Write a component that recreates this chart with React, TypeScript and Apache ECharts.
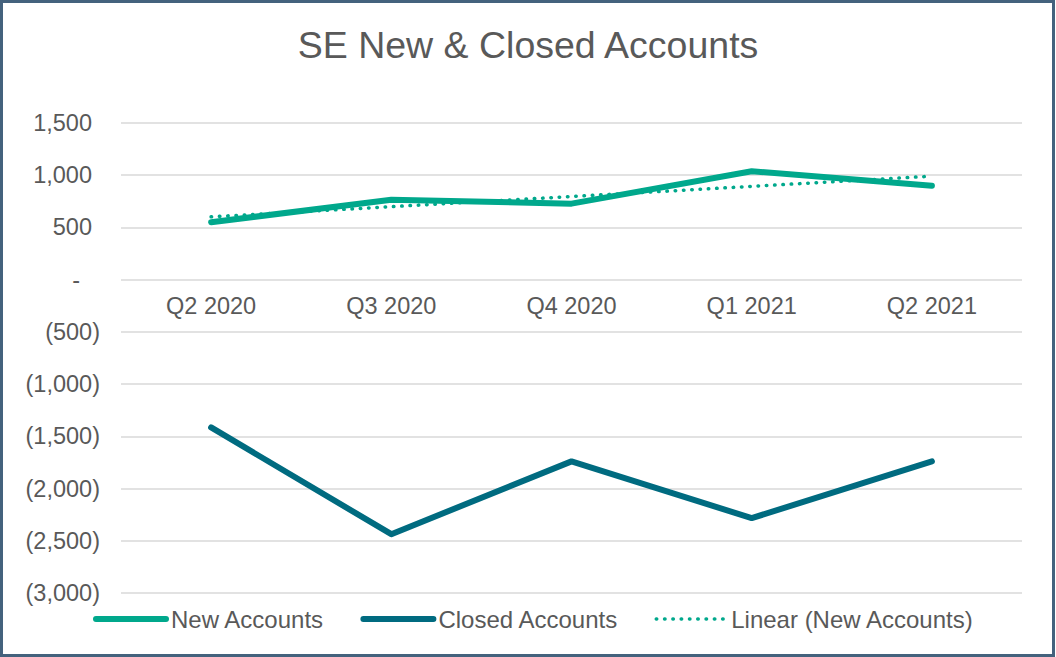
import React, { useEffect, useRef } from "react";
import * as echarts from "echarts";

const categories = ["Q2 2020", "Q3 2020", "Q4 2020", "Q1 2021", "Q2 2021"];
const newAccounts = [550, 765, 728, 1038, 900];
const closedAccounts = [-1415, -2437, -1740, -2283, -1740];
const yTicks = { min: -3000, max: 1500, interval: 500 };

// Linear trend (least squares) of New Accounts, as Excel computes it
function linearTrend(values: number[]): number[] {
  const n = values.length;
  const xs = values.map((_, i) => i + 1);
  const mx = xs.reduce((a, b) => a + b, 0) / n;
  const my = values.reduce((a, b) => a + b, 0) / n;
  let num = 0;
  let den = 0;
  for (let i = 0; i < n; i++) {
    num += (xs[i] - mx) * (values[i] - my);
    den += (xs[i] - mx) * (xs[i] - mx);
  }
  const slope = num / den;
  return xs.map((x) => +(my + slope * (x - mx)).toFixed(2));
}

const FONT = "'Liberation Sans', Arial, sans-serif";
const TEXT = "#595959";
const GREEN = "#00A88C";
const TEAL = "#006B80";
const FS = 23.5;

function fmt(v: number): string {
  if (v === 0) return "{z|-}";
  const s = Math.abs(v).toLocaleString("en-US");
  return v < 0 ? "{n|(" + s + ")}" : "{p|" + s + "}";
}

export default function App() {
  const ref = useRef<HTMLDivElement>(null);
  useEffect(() => {
    if (!ref.current) return;
    const chart = echarts.init(ref.current, undefined, { renderer: "svg" });
    const base = { fontSize: FS, color: TEXT, fontFamily: FONT };
    chart.setOption({
      animation: false,
      backgroundColor: "#ffffff",
      title: {
        text: "SE New & Closed Accounts",
        left: "center",
        top: 21,
        textStyle: { fontSize: 37.5, fontWeight: "normal", color: TEXT, fontFamily: FONT },
      },
      graphic: [
        {
          type: "rect",
          shape: { x: 1.5, y: 1.5, width: 1052, height: 654 },
          style: { fill: "none", stroke: "#44627D", lineWidth: 3 },
          silent: true,
          z: 100,
        },
      ],
      grid: { left: 121, right: 34, top: 123, bottom: 64, containLabel: false },
      legend: {
        left: 93,
        top: 607,
        padding: 0,
        itemWidth: 70,
        itemHeight: 14,
        itemGap: 36,
        itemStyle: { opacity: 0 },
        textStyle: { ...base, fontSize: 24 },
        data: [
          { name: "New Accounts", lineStyle: { width: 6 } },
          { name: "Closed Accounts", lineStyle: { width: 6 } },
          { name: "Linear (New Accounts)", lineStyle: { width: 3.5 } },
        ],
      },
      xAxis: {
        type: "category",
        data: categories,
        boundaryGap: true,
        axisLine: { show: false },
        axisTick: { show: false },
        axisLabel: { show: false },
      },
      yAxis: {
        type: "value",
        min: yTicks.min,
        max: yTicks.max,
        interval: yTicks.interval,
        axisLine: { show: false },
        axisTick: { show: false },
        splitLine: { lineStyle: { color: "#d9d9d9", width: 1.5 } },
        axisLabel: {
          ...base,
          margin: 21,
          formatter: fmt,
          rich: {
            p: { ...base, padding: [0, 8, 0, 0] },
            n: { ...base },
            z: { ...base, padding: [0, 20, 0, 0] },
          },
        },
      },
      series: [
        {
          name: "New Accounts",
          type: "line",
          data: newAccounts,
          symbol: "none",
          lineStyle: { color: GREEN, width: 6, cap: "round", join: "round" },
          itemStyle: { color: GREEN },
          z: 2,
        },
        {
          name: "Closed Accounts",
          type: "line",
          data: closedAccounts,
          symbol: "none",
          lineStyle: { color: TEAL, width: 6, cap: "round", join: "round" },
          itemStyle: { color: TEAL },
          z: 2,
        },
        {
          name: "Linear (New Accounts)",
          type: "line",
          data: linearTrend(newAccounts),
          symbol: "none",
          lineStyle: { color: GREEN, width: 3.5, type: [0.5, 7.8], cap: "round" },
          itemStyle: { color: GREEN },
          z: 3,
        },
        {
          name: "categoryLabels",
          type: "scatter",
          data: categories.map((c) => [c, 0]),
          symbol: "circle",
          symbolSize: 1,
          itemStyle: { color: "rgba(0,0,0,0)", opacity: 1 },
          silent: true,
          z: 1,
          label: {
            show: true,
            position: "bottom",
            distance: 14,
            opacity: 1,
            formatter: (p: any) => p.value[0],
            ...base,
          },
        },
      ],
    });
    return () => chart.dispose();
  }, []);
  return (
    <div
      ref={ref}
      style={{ position: "fixed", left: 0, top: 0, width: 1056, height: 657, background: "#fff" }}
    />
  );
}
